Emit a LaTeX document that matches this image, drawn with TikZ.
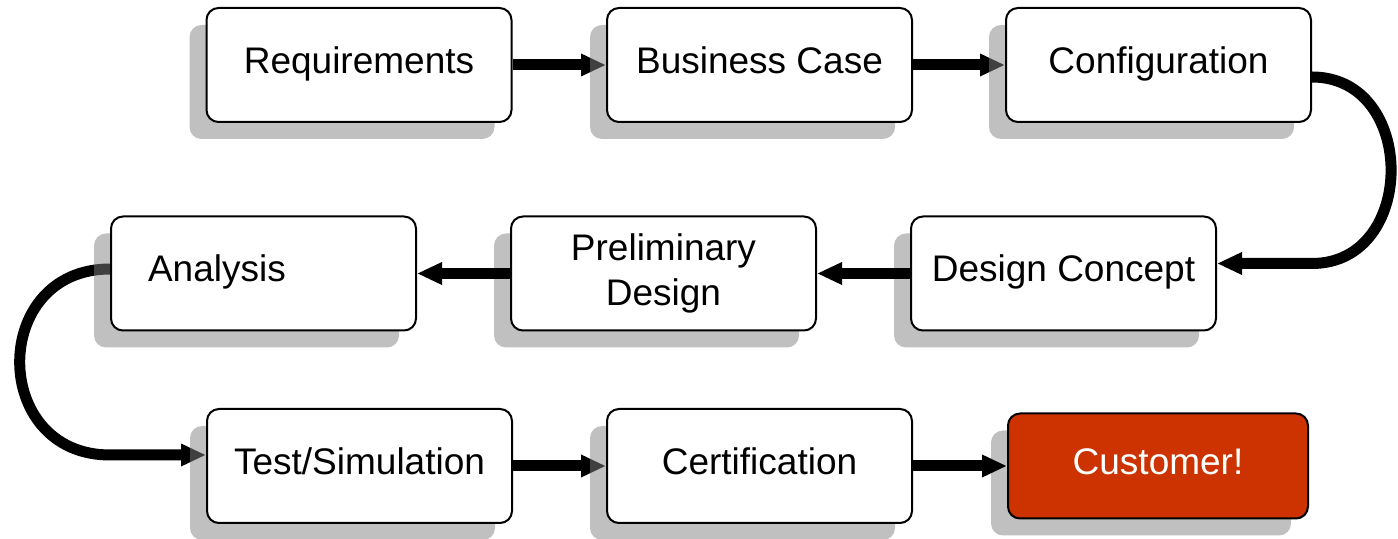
\documentclass[tikz,border=0pt]{standalone}
\usepackage{fontspec}
\setmainfont{Liberation Sans}
\usetikzlibrary{arrows.meta,shadows,calc}
\pgfdeclarelayer{bg}
\pgfsetlayers{bg,main}
\definecolor{shade}{RGB}{129,129,129}
\definecolor{custred}{RGB}{204,51,0}
\tikzset{
  box/.style={draw=black, line width=1pt, rounded corners=6pt, fill=white,
    minimum width=152.5pt, minimum height=57pt,
    font=\fontsize{18.5}{22.5}\selectfont,
    drop shadow={shadow xshift=-8.5pt, shadow yshift=-8.5pt, fill=shade, opacity=0.5}},
  one/.style={text height=13pt, text depth=4.8pt},
  leftbox/.style={align=left, text width=115.5pt, inner xsep=18.5pt},
  custbox/.style={box, fill=custred, text=white, minimum width=150pt, minimum height=52.5pt},
  conn/.style={line width=5.5pt, -{Triangle[length=12.5pt,width=10.5pt]}},
}
\begin{document}
\begin{tikzpicture}[x=0.5pt, y=-0.5pt]
\useasboundingbox (0,0) rectangle (1398,539);
% row 1
\node[box, one] (req) at (359,65) {Requirements};
\node[box, one] (bc) at (759.5,65) {Business Case};
\node[box, one] (cfg) at (1158.5,65) {Configuration};
% row 2
\node[box, one, leftbox] (an) at (263.5,273.5) {Analysis};
\node[box, align=center] (pd) at (663.5,273.5) {Preliminary\\Design};
\node[box, one] (dc) at (1063.5,273.5) {Design Concept};
% row 3
\node[box, one] (ts) at (359.5,466) {Test/Simulation};
\node[box, one] (cert) at (759.5,466) {Certification};
\node[custbox, one] (cust) at (1158,466) {Customer!};
% connectors under the shadows
\begin{pgfonlayer}{bg}
\draw[conn] (req) -- (bc);
\draw[conn] (bc) -- (cfg);
\draw[conn] ([yshift=-6pt]cfg.east) to[out=0,in=0,looseness=1.45]
  ($(cfg.east |- dc.east)+(0,-10)$) -- ([yshift=5pt]dc.east);
\draw[conn] ([yshift=2.25pt]an.west) to[out=180,in=180,looseness=1.66]
  ($(an.west |- ts.west)+(0,-11)$) -- ([yshift=5.5pt]ts.west);
\draw[conn] (ts) -- (cert);
\end{pgfonlayer}
% connectors over the shadows
\draw[conn] (dc) -- (pd);
\draw[conn] (pd) -- (an);
\draw[conn] (cert) -- (cust);
\end{tikzpicture}
\end{document}
